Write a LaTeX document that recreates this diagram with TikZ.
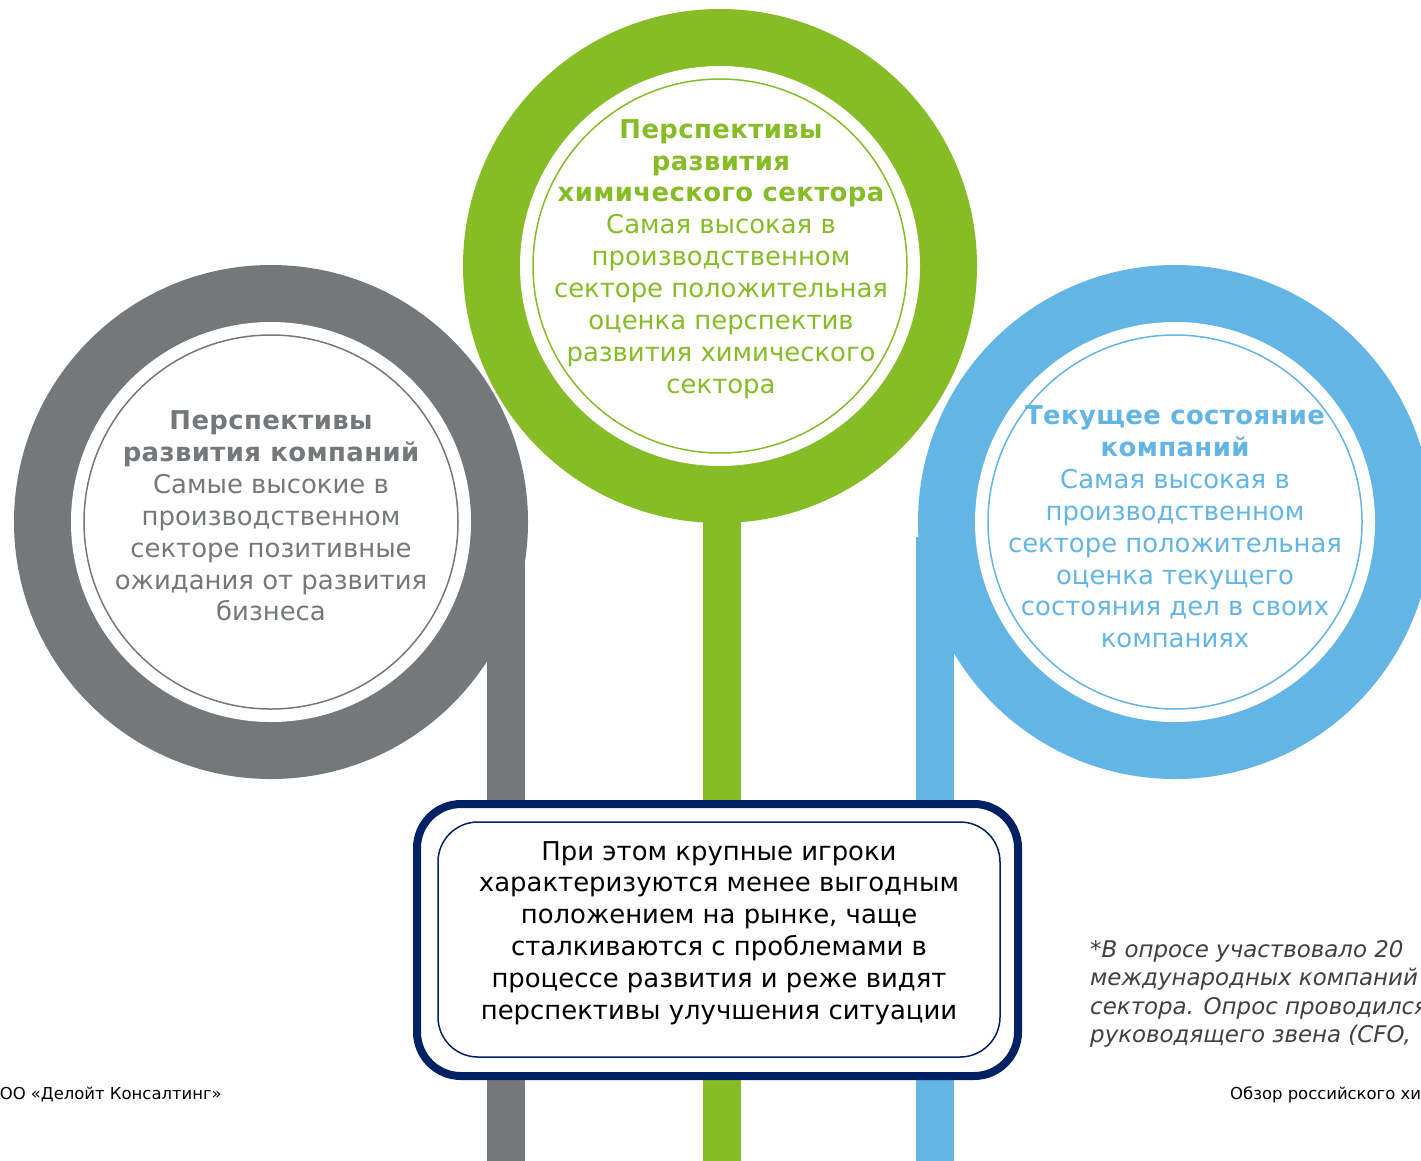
\documentclass[tikz,border=0pt]{standalone}
\usepackage{fontspec}
\setmainfont{DejaVu Sans}
\newfontfamily\widebold{DejaVu Sans}[LetterSpace=1.5]
\definecolor{dgray}{HTML}{75787B}
\definecolor{dgreen}{HTML}{86BC25}
\definecolor{dblue}{HTML}{62B5E5}
\definecolor{dnavy}{RGB}{0,33,100}
\definecolor{notegray}{HTML}{404040}
\tikzset{
  outerring/.style={circle, inner sep=0pt, minimum size=514bp, fill=#1},
  hole/.style={circle, inner sep=0pt, minimum size=400bp, fill=white},
  thinring/.style={circle, inner sep=0pt, minimum size=374bp, draw=#1, line width=1.5bp},
  barline/.style={line width=38bp, draw=#1},
  ctext/.style={text=#1, align=center, inner sep=0pt, font=\fontsize{26}{32}\selectfont},
  outerbox/.style={draw=dnavy, line width=8bp, fill=white, rounded corners=44bp},
  innerbox/.style={draw=dnavy, line width=1.5bp, rounded corners=40bp},
  smalltext/.style={inner sep=0pt, font=\fontsize{16.5}{20}\selectfont, text=black},
}
\newcommand\hd[1]{{\widebold\bfseries #1}}
\begin{document}
\begin{tikzpicture}[x=1bp,y=-1bp]
\useasboundingbox (0,0) rectangle (1421,1160);
\clip (0,0) rectangle (1421,1160);
\fill[white] (0,0) rectangle (1421,1160);

% vertical bars
\coordinate (gtop) at (506,545); \coordinate (gbot) at (506,1165);
\coordinate (etop) at (722,500); \coordinate (ebot) at (722,1165);
\coordinate (btop) at (935,537); \coordinate (bbot) at (935,1165);
\draw[barline=dgray] (gtop) -- (gbot);
\draw[barline=dgreen] (etop) -- (ebot);
\draw[barline=dblue] (btop) -- (bbot);

% gray circle
\node[outerring=dgray] (gring) at (271,522) {};
\node[hole] (ghole) at (gring.center) {};
\node[thinring=dgray] (gthin) at (gring.center) {};
% green circle
\node[outerring=dgreen] (ering) at (720,266) {};
\node[hole] (ehole) at (ering.center) {};
\node[thinring=dgreen] (ethin) at (ering.center) {};
% blue circle
\node[outerring=dblue] (bring) at (1175,522) {};
\node[hole] (bhole) at (bring.center) {};
\node[thinring=dblue] (bthin) at (bring.center) {};

% circle texts
\node[ctext=dgray] (gtext) at (271,516) {\hd{Перспективы}\\\hd{развития компаний}\\Самые высокие в\\производственном\\секторе позитивные\\ожидания от развития\\бизнеса};
\node[ctext=dgreen] (etext) at (721,259) {\hd{Перспективы}\\\hd{развития}\\\hd{химического сектора}\\Самая высокая в\\производственном\\секторе положительная\\оценка перспектив\\развития химического\\сектора};
\node[ctext=dblue] (btext) at (1175,527) {\hd{Текущее состояние}\\\hd{компаний}\\Самая высокая в\\производственном\\секторе положительная\\оценка текущего\\состояния дел в своих\\компаниях};

% central box
\draw[outerbox] (417,804) rectangle (1018,1076);
\draw[innerbox] (438,822) rectangle (1000,1057);
\node[ctext=black] (boxtext) at (719,933) {При этом крупные игроки\\характеризуются менее выгодным\\положением на рынке, чаще\\сталкиваются с проблемами в\\процессе развития и реже видят\\перспективы улучшения ситуации};

% footnote
\node[inner sep=0pt, anchor=north west, align=left, text=notegray, font=\fontsize{23}{28.5}\selectfont\itshape] (note) at (1090,940) {*В опросе участвовало 20\\международных компаний\\сектора. Опрос проводился\\руководящего звена (CFO,};

% footer
\node[smalltext, anchor=base east] (footl) at (222,1099) {ООО «Делойт Консалтинг»};
\node[smalltext, anchor=base west] (footr) at (1230,1099) {Обзор российского химического};
\end{tikzpicture}
\end{document}
